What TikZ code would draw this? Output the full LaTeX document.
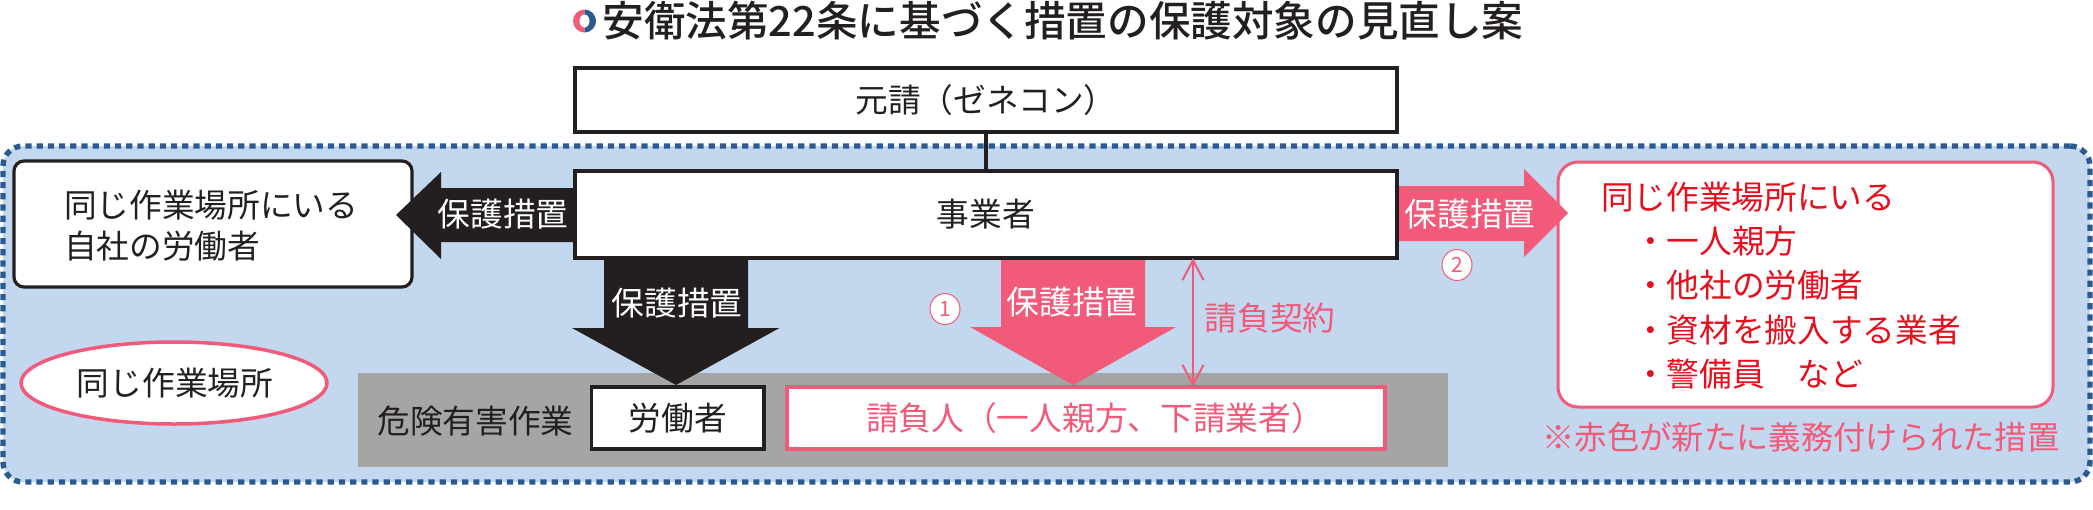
\documentclass[tikz,border=0pt]{standalone}
\usepackage{fontspec}
\setmainfont{Noto Sans CJK JP}
\newfontfamily\titlefont{Noto Sans CJK JP Medium}
\usetikzlibrary{shapes.geometric,arrows.meta,calc}
\definecolor{ink}{HTML}{231F20}
\definecolor{pinkc}{HTML}{F25A7A}
\definecolor{redc}{HTML}{E60F1E}
\definecolor{sitec}{HTML}{C3D7EE}
\definecolor{dotc}{HTML}{2B5A90}
\definecolor{grayc}{HTML}{A5A5A5}
\tikzset{
  x=1pt,y=-1pt,
  every node/.style={inner sep=0pt,outer sep=0pt},
  txt/.style={font=\fontsize{32.7}{41}\selectfont,text=ink},
  boxb/.style={draw=ink,fill=white,line width=3.2pt,txt},
  boxp/.style={draw=pinkc,fill=white,line width=4pt,txt,text=pinkc},
  arrowtxt/.style={txt,text=white},
  pinktxt/.style={txt,text=pinkc},
  circ/.style={draw=pinkc,fill=white,line width=1pt,ellipse,minimum width=30pt,minimum height=31pt,text=pinkc,font=\fontsize{21}{21}\selectfont},
  sz/.style n args={2}{minimum width=#1pt,minimum height=#2pt},
}
\begin{document}
\begin{tikzpicture}
\useasboundingbox (0,0) rectangle (2093,509);
% site
\node[fill=sitec,draw=dotc,line width=5.4pt,dash pattern=on 6.2pt off 5pt,rounded corners=20pt,sz={2087}{336}] (site) at (1046.5,314) {};
% title icon
\begin{scope}
\clip (570,0) rectangle (584.5,40);
\fill[pinkc] (584.5,21) circle[radius=11.5pt];
\end{scope}
\begin{scope}
\clip (584.5,0) rectangle (600,40);
\fill[dotc] (584.5,21) circle[radius=11.5pt];
\end{scope}
\fill[white] (584.5,21) ellipse[x radius=5pt,y radius=6.5pt];
\node[font=\fontsize{41.6}{42}\selectfont\titlefont,text=ink] (title) at (1063,21) {安衛法第22条に基づく措置の保護対象の見直し案};
% gray
\node[fill=grayc,sz={1090}{94}] (gray) at (903,420) {};
% target boxes
\node[boxb,rounded corners=10pt,sz={398}{126},align=left] (own) at (213,224) {};
\node[txt,align=left,anchor=west] (ownt) at (64,225.5) {同じ作業場所にいる\\自社の労働者};
\node[draw=pinkc,fill=white,line width=3pt,rounded corners=20pt,sz={495}{245}] (oth) at (1805.5,284.5) {};
% block arrows
\fill[ink] (575,188) -- (441,188) -- (441,172) -- (396,215) -- (441,259) -- (441,242) -- (575,242) -- cycle;
\fill[ink] (604,258) -- (604,328) -- (572,328) -- (676,385) -- (779.5,328) -- (748,328) -- (748,258) -- cycle;
\fill[pinkc] (1001,258) -- (1001,327) -- (970,327) -- (1073,385) -- (1176,327) -- (1145,327) -- (1145,258) -- cycle;
\fill[pinkc] (1397,186) -- (1524,186) -- (1524,169) -- (1568,213) -- (1524,257) -- (1524,241) -- (1397,241) -- cycle;
% boxes
\node[boxb,sz={822}{64}] (gen) at (986,100) {元請（ゼネコン）};
\node[boxb,sz={822}{87}] (jig) at (986,214.5) {事業者};
\node[boxb,sz={172.5}{62}] (rou) at (677.75,418) {労働者};
\node[boxp,sz={598}{62}] (uke) at (1086,418) {\hspace*{18pt}請負人（一人親方、下請業者）};
\node[draw=pinkc,fill=white,line width=3.5pt,ellipse,sz={306}{82},txt] (same) at (174,383) {\hspace*{2pt}同じ作業場所};
\node[txt,text=redc,align=left,anchor=west,font=\fontsize{32.7}{44.3}\selectfont] (otht) at (1601,285.5) {同じ作業場所にいる\\\hspace*{33pt}・一人親方\\\hspace*{33pt}・他社の労働者\\\hspace*{33pt}・資材を搬入する業者\\\hspace*{33pt}・警備員　など};
% connectors
\draw[ink,line width=3.2pt] (gen.south) -- (jig.north);
\coordinate (ax) at (1193,0);
\draw[pinkc,line width=2pt,{Straight Barb[length=20pt,width=21pt]}-{Straight Barb[length=20pt,width=21pt]}] (ax |- jig.south) -- (ax |- uke.north);
% labels
\node[arrowtxt] (l1) at (503,214) {保護措置};
\node[arrowtxt] (l2) at (677,303) {保護措置};
\node[arrowtxt] (l3) at (1072,302) {保護措置};
\node[arrowtxt] (l4) at (1470,214) {保護措置};
\node[circ] (c1) at (945,309) {1};
\node[circ] (c2) at (1457,265) {2};
\node[pinktxt] (kei) at (1270,318) {請負契約};
\node[txt] (kik) at (475.5,421) {危険有害作業};
\node[pinktxt,font=\fontsize{32.3}{41}\selectfont] (note) at (1801,437) {※赤色が新たに義務付けられた措置};
\end{tikzpicture}
\end{document}
